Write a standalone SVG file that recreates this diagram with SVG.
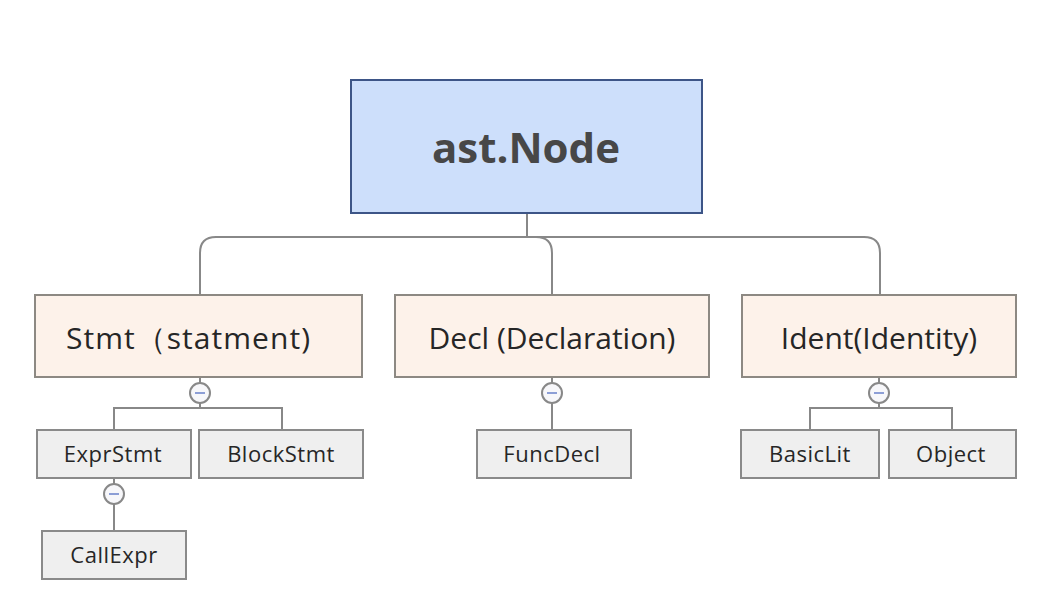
<svg xmlns="http://www.w3.org/2000/svg" width="1056" height="610" viewBox="0 0 1056 610">
<style>
.root{fill:#cddffb;stroke:#3d5587;stroke-width:2}
.mid{fill:#fdf2ea;stroke:#8d8983;stroke-width:2}
.leaf{fill:#efefef;stroke:#8a8a8a;stroke-width:2}
.conn{fill:none;stroke:#888;stroke-width:2}
.tog{fill:#f7f7fa;stroke:#888;stroke-width:2}
.minus{stroke:#8c9ed6;stroke-width:2}
.t{font-family:"Open Sans","Noto Sans","DejaVu Sans",sans-serif;fill:#262626;text-anchor:middle}
.tr{font-size:42px;font-weight:bold;fill:#474747}
.tm{font-size:30px}
.tl{font-size:22px;letter-spacing:0.5px}
</style>
<rect width="1056" height="610" fill="#fff"/>
<g id="connectors">
<path class="conn" d="M527,214 V237"/>
<path class="conn" d="M200,295 V253 Q200,237 216,237 H864 Q880,237 880,253 V295"/>
<path class="conn" d="M527,237 H536 Q552,237 552,253 V295"/>
<path class="conn" d="M200,378 V383 M200,403 V408 M114,430 V408 H282 V430"/>
<path class="conn" d="M552,378 V383 M552,403 V430"/>
<path class="conn" d="M879,378 V383 M879,403 V408 M810,430 V408 H952 V430"/>
<path class="conn" d="M114,479 V484 M114,504 V531"/>
<circle class="tog" cx="200" cy="393" r="10"/><path class="minus" d="M195,393 H205"/>
<circle class="tog" cx="552" cy="393" r="10"/><path class="minus" d="M547,393 H557"/>
<circle class="tog" cx="879" cy="393" r="10"/><path class="minus" d="M874,393 H884"/>
<circle class="tog" cx="114" cy="494" r="10"/><path class="minus" d="M109,494 H119"/>
</g>
<g id="ast-node"><rect class="root" x="351" y="80" width="351" height="133"/><text class="t tr" x="526" y="163">ast.Node</text></g>
<g id="stmt"><rect class="mid" x="35" y="295" width="327" height="82"/><text class="t tm" x="188" y="349" textLength="244">Stmt（statment)</text></g>
<g id="decl"><rect class="mid" x="395" y="295" width="314" height="82"/><text class="t tm" x="552" y="349">Decl (Declaration)</text></g>
<g id="ident"><rect class="mid" x="742" y="295" width="274" height="82"/><text class="t tm" x="879" y="349">Ident(Identity)</text></g>
<g id="exprstmt"><rect class="leaf" x="37" y="430" width="154" height="48"/><text class="t tl" x="113" y="462">ExprStmt</text></g>
<g id="blockstmt"><rect class="leaf" x="199" y="430" width="164" height="48"/><text class="t tl" x="281" y="462">BlockStmt</text></g>
<g id="callexpr"><rect class="leaf" x="42" y="531" width="144" height="48"/><text class="t tl" x="114" y="563">CallExpr</text></g>
<g id="funcdecl"><rect class="leaf" x="477" y="430" width="154" height="48"/><text class="t tl" x="552" y="462">FuncDecl</text></g>
<g id="basiclit"><rect class="leaf" x="741" y="430" width="138" height="48"/><text class="t tl" x="810" y="462">BasicLit</text></g>
<g id="object"><rect class="leaf" x="889" y="430" width="127" height="48"/><text class="t tl" x="951" y="462">Object</text></g>
</svg>
